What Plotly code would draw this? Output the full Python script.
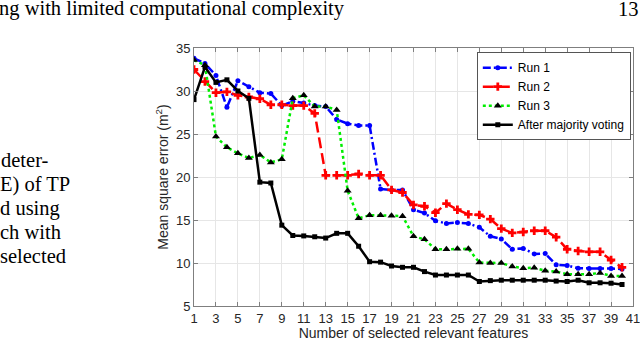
import plotly.graph_objects as go

n_features = list(range(1, 41))

run1 = [33.8, 33.2, 31.8, 28.1, 31.2, 30.5, 29.8, 29.7, 28.3, 28.8,
        28.6, 28.3, 28.2, 26.7, 26.2, 26.0, 26.0, 18.6, 18.5, 18.5,
        16.2, 15.8, 14.9, 14.6, 14.7, 14.6, 14.15, 13.1, 12.8, 11.6,
        11.7, 11.05, 11.1, 9.8, 9.7, 9.4, 9.35, 9.35, 9.35, 9.3]

run2 = [32.5, 31.1, 29.8, 29.9, 29.5, 29.3, 29.1, 28.4, 28.4, 28.3,
        28.3, 27.4, 20.2, 20.2, 20.2, 20.35, 20.2, 20.2, 18.5, 18.2,
        16.75, 16.6, 15.85, 16.9, 16.2, 15.65, 15.6, 15.1, 14.0, 13.5,
        13.6, 13.75, 13.75, 13.0, 11.6, 11.4, 11.3, 11.3, 10.35, 9.5]

run3 = [33.6, 33.0, 24.7, 23.45, 22.75, 22.2, 22.55, 21.7, 22.05, 29.15,
        29.5, 28.2, 28.2, 27.8, 18.4, 15.2, 15.55, 15.55, 15.5, 15.45,
        13.1, 12.75, 11.6, 11.6, 11.65, 11.65, 10.05, 10.0, 10.0, 9.6,
        9.4, 9.45, 9.1, 9.0, 8.7, 8.7, 8.7, 8.85, 8.5, 8.5]

majority = [29.0, 32.8, 31.0, 31.3, 30.0, 29.15, 19.4, 19.3, 14.4, 13.2,
            13.15, 13.05, 12.9, 13.45, 13.45, 11.95, 10.15, 10.1, 9.65, 9.5,
            9.5, 9.0, 8.6, 8.6, 8.6, 8.6, 7.85, 7.95, 8.0, 8.0,
            8.0, 8.0, 8.0, 7.9, 7.85, 8.0, 7.7, 7.7, 7.65, 7.5]

# page text around the figure (scanned paper)
header_text = "ng with limited computational complexity"
page_number = "13"
side_lines = ["deter-", "E) of TP", "d using", "ch with", "selected"]

fig = go.Figure()

fig.add_trace(go.Scatter(
    x=n_features, y=run1, name="Run 1", mode="lines+markers",
    line=dict(color="#0000ff", width=2.5, dash="8px,3px,2px,3px"),
    marker=dict(symbol="circle", size=5, color="#0000ff"),
))
fig.add_trace(go.Scatter(
    x=n_features, y=run2, name="Run 2", mode="lines+markers",
    line=dict(color="#ff0000", width=2.5, dash="11px,5px"),
    marker=dict(symbol="cross", size=7, color="#ff0000"),
))
fig.add_trace(go.Scatter(
    x=n_features, y=run3, name="Run 3", mode="lines+markers",
    line=dict(color="#00ee00", width=2.5, dash="dot"),
    marker=dict(symbol="triangle-up", size=7, color="black"),
))
fig.add_trace(go.Scatter(
    x=n_features, y=majority, name="After majority voting", mode="lines+markers",
    line=dict(color="black", width=2.5),
    marker=dict(symbol="square", size=5, color="black"),
))

axis_common = dict(
    showline=True, mirror="ticks", linecolor="#7f7f7f", linewidth=1,
    ticks="inside", ticklen=4, tickcolor="#7f7f7f",
    showgrid=True, gridcolor="#e6e6e6", zeroline=False,
    tickfont=dict(size=13, color="#262626"), automargin=False,
    ticklabeloverflow="allow",
)

fig.update_xaxes(range=[1, 41], tick0=1, dtick=2,
                 title=dict(text="Number of selected relevant features",
                            font=dict(size=14, color="#262626"), standoff=4),
                 **axis_common)
fig.update_yaxes(range=[5, 35], dtick=5,
                 title=dict(text="Mean square error (m<sup>2</sup>)",
                            font=dict(size=14, color="#262626"), standoff=4),
                 **axis_common)

# serif text of the page, placed in pixels relative to the plot area
def px_x(p):
    return (p - 194) / 439

def px_y(p):
    return (306 - p) / 258

serif = dict(family="Liberation Serif, Times New Roman, serif", size=20.5, color="black")
ann = [
    dict(text=header_text, x=px_x(-3), y=px_y(9), xanchor="left"),
    dict(text=page_number, x=px_x(641), y=px_y(9), xanchor="right"),
]
side_x = [-1, -2, -2, -2, -2]
side_y = [160, 184, 208, 232, 256]
for line, sx, sy in zip(side_lines, side_x, side_y):
    ann.append(dict(text=line, x=px_x(sx), y=px_y(sy), xanchor="left"))
for a in ann:
    fig.add_annotation(xref="paper", yref="paper", showarrow=False,
                       yanchor="middle", font=serif, **a)

fig.update_layout(
    width=640, height=341,
    margin=dict(l=194, r=7, t=48, b=35),
    paper_bgcolor="white", plot_bgcolor="white",
    font=dict(family="Liberation Sans, Arial, sans-serif", color="#262626"),
    legend=dict(x=0.995, y=0.984, xanchor="right", yanchor="top",
                bgcolor="white", bordercolor="#555", borderwidth=1,
                font=dict(size=12, color="black"), itemwidth=30,
                tracegroupgap=0),
    showlegend=True,
)

fig.write_html("out.html", config={"displayModeBar": False},
               post_script="document.body.style.margin='0';")
